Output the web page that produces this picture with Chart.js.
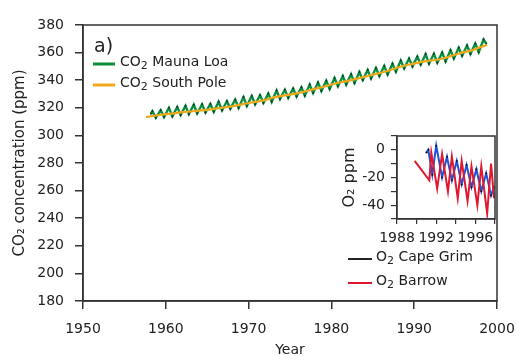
<!DOCTYPE html>
<html>
<head>
<meta charset="utf-8">
<script src="https://cdn.jsdelivr.net/npm/chart.js@4.4.0/dist/chart.umd.min.js"></script>
<style>
html,body{margin:0;padding:0;background:#fff;}
#wrap{position:relative;width:516px;height:356px;}
#main{position:absolute;left:0;top:0;}
#inset{position:absolute;left:330px;top:125px;}
</style>
</head>
<body>
<div id="wrap">
<canvas id="main" width="516" height="356"></canvas>
<canvas id="inset" width="180" height="120"></canvas>
</div>
<script>
// ---- Main panel data (CO2, ppm) ----
const mlTime = [1958.2,
 1958.38,1958.79,1959.38,1959.79,1960.38,1960.79,1961.38,1961.79,1962.38,1962.79,
 1963.38,1963.79,1964.38,1964.79,1965.38,1965.79,1966.38,1966.79,1967.38,1967.79,
 1968.38,1968.79,1969.38,1969.79,1970.38,1970.79,1971.38,1971.79,1972.38,1972.79,
 1973.38,1973.79,1974.38,1974.79,1975.38,1975.79,1976.38,1976.79,1977.38,1977.79,
 1978.38,1978.79,1979.38,1979.79,1980.38,1980.79,1981.38,1981.79,1982.38,1982.79,
 1983.38,1983.79,1984.38,1984.79,1985.38,1985.79,1986.38,1986.79,1987.38,1987.79,
 1988.38,1988.79,1989.38,1989.79,1990.38,1990.79,1991.38,1991.79,1992.38,1992.79,
 1993.38,1993.79,1994.38,1994.79,1995.38,1995.79,1996.38,1996.79,1997.38,1997.79,
 1998.38,1998.7];
const mlCO2 = [315.7,
 317.5,312.7,318.3,313.3,320.0,313.8,320.6,314.8,321.4,315.4,
 322.2,315.9,322.5,316.6,322.8,317.1,324.4,318.2,324.8,319.3,
 325.9,319.9,327.8,321.3,328.6,322.5,329.1,323.5,330.3,324.3,
 332.6,326.3,333.1,327.2,334.0,328.2,334.9,328.8,336.9,330.8,
 338.4,332.2,339.6,333.7,341.5,335.6,343.0,336.8,344.3,338.0,
 345.9,340.1,347.4,341.3,348.9,343.0,350.3,344.1,351.9,346.1,
 354.3,348.5,355.7,350.0,357.1,351.4,358.9,351.9,359.1,352.6,
 360.0,353.6,361.7,355.8,363.5,357.7,365.2,359.0,366.5,360.3,
 369.5,366.5];
const spTime = [1957.6,1959,1960,1961,1962,1963,1964,1965,1966,1967,1968,1969,1970,1971,1972,1973,
 1974,1975,1976,1977,1978,1979,1980,1981,1982,1983,1984,1985,1986,1987,1988,1989,1990,1991,
 1992,1993,1994,1995,1996,1997,1998,1998.8];
const spCO2 = [313.3,314.6,315.4,316.0,316.8,317.3,317.9,318.5,319.4,320.2,321.0,322.3,323.5,324.5,
 325.6,327.6,328.6,329.6,330.6,332.2,333.7,335.1,336.9,338.3,339.5,341.0,342.5,344.0,345.4,
 347.0,349.2,350.8,352.0,353.5,354.3,355.0,356.6,358.6,360.3,361.6,364.0,365.5];

// ---- Inset data (O2, ppm) ----
const cgTime = [1991.0,1991.2,1991.6,1992.0,1992.6,1993.1,1993.6,1994.1,1994.6,1995.1,1995.6,
 1996.1,1996.6,1997.1,1997.6,1997.9];
const cgO2 = [-2,0,-18,3,-20,-5,-22,-8,-25,-11,-27,-14,-30,-17,-33,-27];
const brTime = [1989.8,1991.3,1991.5,1992.1,1992.6,1993.2,1993.6,1994.2,1994.6,1995.2,1995.6,
 1996.2,1996.6,1997.2,1997.6,1997.9];
const brO2 = [-8,-22,-2,-28,-3,-30,-5,-35,-8,-37,-12,-40,-12,-46,-10,-35];

// ---- Ticks / labels ----
const mainXTicks = [1950,1960,1970,1980,1990,2000];
const mainYTicks = [180,200,220,240,260,280,300,320,340,360,380];
const insetXLabels = [1988,1992,1996];
const insetYLabels = [0,-20,-40];
const panelLabel = 'a)';
const mainLegend = [['CO','2',' Mauna Loa'],['CO','2',' South Pole']];
const insetLegend = [['O','2',' Cape Grim'],['O','2',' Barrow']];

const FONT = "'DejaVu Sans', sans-serif";
const AX = '#333';
const GREEN = '#0b8d3e', ORANGE = '#f0a81a', BLUE = '#1f52d6', RED = '#e0182f';

function pts(t, v){ return t.map((x,i)=>({x:x, y:v[i]})); }
function noPad(s){ s.paddingLeft = 0; s.paddingRight = 0; s.paddingTop = 0; s.paddingBottom = 0; }

function drawSubLabel(ctx, parts, x, y, size){
  ctx.font = size + 'px ' + FONT;
  ctx.textBaseline = 'middle';
  ctx.fillStyle = '#222';
  ctx.fillText(parts[0], x, y);
  x += ctx.measureText(parts[0]).width;
  ctx.font = Math.round(size*0.75) + 'px ' + FONT;
  ctx.fillText(parts[1], x, y + 4);
  x += ctx.measureText(parts[1]).width;
  ctx.font = size + 'px ' + FONT;
  ctx.fillText(parts[2], x, y);
}

const framePlugin = {
  id: 'frame',
  afterDatasetsDraw(chart){
    const {ctx, chartArea:a} = chart;
    ctx.save();
    ctx.strokeStyle = AX; ctx.lineWidth = 1.5;
    ctx.strokeRect(a.left, a.top, a.right-a.left, a.bottom-a.top);
    ctx.restore();
  }
};

const mainLegendPlugin = {
  id: 'mainLegend',
  afterDraw(chart){
    const ctx = chart.ctx;
    ctx.save();
    ctx.font = '19px ' + FONT;
    ctx.fillStyle = '#222';
    ctx.textBaseline = 'middle';
    ctx.fillText(panelLabel, 94, 47);
    const cols = [GREEN, ORANGE];
    const ys = [64, 85];
    for (let i=0;i<2;i++){
      ctx.strokeStyle = cols[i]; ctx.lineWidth = 3;
      ctx.beginPath(); ctx.moveTo(93, ys[i]); ctx.lineTo(115, ys[i]); ctx.stroke();
      drawSubLabel(ctx, mainLegend[i], 120, ys[i]-2, 14);
    }
    const cols2 = ['#222', RED];
    const ys2 = [259, 283];
    for (let i=0;i<2;i++){
      ctx.strokeStyle = cols2[i]; ctx.lineWidth = 2;
      ctx.beginPath(); ctx.moveTo(348, ys2[i]); ctx.lineTo(372, ys2[i]); ctx.stroke();
      drawSubLabel(ctx, insetLegend[i], 376, ys2[i]-2, 14);
    }
    ctx.restore();
  }
};

Chart.defaults.font.family = FONT;
Chart.defaults.font.size = 14;
Chart.defaults.color = '#222';

new Chart(document.getElementById('main'), {
  type: 'line',
  data: {
    datasets: [
      {label:'CO2 South Pole', data: pts(spTime, spCO2), borderColor: ORANGE, borderWidth: 2.2,
       pointRadius: 0, tension: 0},
      {label:'CO2 Mauna Loa', data: pts(mlTime, mlCO2), borderColor: GREEN, borderWidth: 2.4,
       pointRadius: 1, pointBackgroundColor: '#0a3a22', pointBorderWidth: 0, tension: 0}
    ]
  },
  options: {
    responsive: false, animation: false, devicePixelRatio: 1,
    layout: {padding: {top: 25, right: 19, left: 0, bottom: 0}},
    plugins: {legend: {display: false}, tooltip: {enabled: false}},
    scales: {
      x: {
        type: 'linear', min: 1950, max: 2000,
        afterFit(s){ s.height = 55; noPad(s); },
        afterBuildTicks(s){ s.ticks = mainXTicks.map(v=>({value:v})); },
        ticks: {padding: 12, maxRotation: 0, autoSkip: false, callback: v => String(v)},
        grid: {drawOnChartArea: false, tickLength: 8, color: AX, lineWidth: 1.5},
        border: {color: AX, width: 1.5},
        title: {display: true, text: 'Year', font: {size: 14, lineHeight: 1}, padding: {top: 0, bottom: -1}}
      },
      y: {
        min: 180, max: 380,
        afterFit(s){ s.width = 83; noPad(s); },
        afterBuildTicks(s){ s.ticks = mainYTicks.map(v=>({value:v})); },
        ticks: {padding: 11, callback: v => String(v)},
        grid: {drawOnChartArea: false, tickLength: 8, color: AX, lineWidth: 1.5},
        border: {color: AX, width: 1.5},
        title: {display: true, text: 'CO₂ concentration (ppm)', font: {size: 15, lineHeight: 1}, padding: {top: 13, bottom: 0}}
      }
    }
  },
  plugins: [framePlugin, mainLegendPlugin]
});

new Chart(document.getElementById('inset'), {
  type: 'line',
  data: {
    datasets: [
      {label:'O2 Barrow', data: pts(brTime, brO2), borderColor: RED, borderWidth: 2,
       pointRadius: 0, tension: 0},
      {label:'O2 Cape Grim', data: pts(cgTime, cgO2), borderColor: BLUE, borderWidth: 2,
       pointRadius: 1, pointBackgroundColor: '#111', pointBorderWidth: 0, tension: 0}
    ]
  },
  options: {
    responsive: false, animation: false, devicePixelRatio: 1,
    layout: {padding: {top: 11, right: 15, left: 0, bottom: 0}},
    plugins: {legend: {display: false}, tooltip: {enabled: false}},
    scales: {
      x: {
        type: 'linear', min: 1988, max: 1998,
        afterFit(s){ s.height = 26; noPad(s); },
        ticks: {stepSize: 2, padding: 6, maxRotation: 0, autoSkip: false,
          callback: v => insetXLabels.includes(v) ? String(v) : ''},
        grid: {drawOnChartArea: false, tickLength: 5, color: AX, lineWidth: 1.2},
        border: {color: AX, width: 1.2}
      },
      y: {
        min: -50, max: 10,
        afterFit(s){ s.width = 67; noPad(s); },
        ticks: {stepSize: 10, padding: 6, autoSkip: false,
          callback: v => insetYLabels.includes(v) ? String(v) : ''},
        grid: {drawOnChartArea: false, tickLength: 6, color: AX, lineWidth: 1.2},
        border: {color: AX, width: 1.2},
        title: {display: true, text: 'O₂ ppm', font: {size: 16, lineHeight: 1}, padding: {top: 12, bottom: 0}}
      }
    }
  },
  plugins: [framePlugin]
});
</script>
</body>
</html>
